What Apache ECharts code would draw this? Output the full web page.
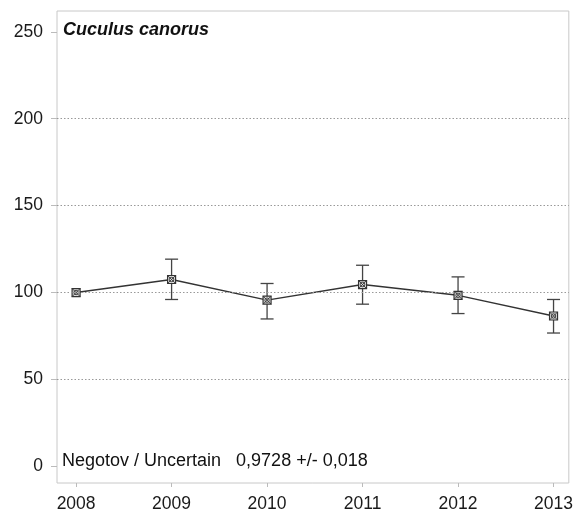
<!DOCTYPE html>
<html><head><meta charset="utf-8">
<script src="https://cdn.jsdelivr.net/npm/echarts@6/dist/echarts.min.js"></script>
<style>html,body{margin:0;padding:0;background:#fff}#c{width:576px;height:513px}</style>
</head><body><div id="c"></div>
<script>
const years = [2008, 2009, 2010, 2011, 2012, 2013];
const indexValues = [100, 107.5, 95.6, 104.6, 98.4, 86.5];
const upperValues = [null, 119.2, 105.2, 115.7, 109.0, 96.0];
const lowerValues = [null, 96.0, 84.8, 93.3, 87.9, 76.7];
const yTicks = [0, 50, 100, 150, 200, 250];
const gridValues = [50, 100, 150, 200];
const speciesTitle = 'Cuculus canorus';
const trendText = 'Negotov / Uncertain   0,9728 +/- 0,018';

const FONT = 'Liberation Sans, Arial, sans-serif';
const chart = echarts.init(document.getElementById('c'));

const errData = years.map((y, i) => [y, indexValues[i], lowerValues[i], upperValues[i]]);

chart.setOption({
  animation: false,
  backgroundColor: '#fff',
  grid: { left: 57, right: 5, top: 11, bottom: 30, show: true, borderColor: '#c8c8c8', borderWidth: 1, backgroundColor: 'transparent' },
  xAxis: {
    type: 'value', min: 2007.8, max: 2013.16,
    axisLine: { show: false, onZero: false },
    splitLine: { show: false },
    axisTick: { show: true, length: 4, customValues: years, lineStyle: { color: '#bbb' } },
    axisLabel: { customValues: years, margin: 12, color: '#1a1a1a', fontFamily: FONT, fontSize: 17.5, formatter: v => String(v) }
  },
  yAxis: {
    type: 'value', min: -9.6, max: 262,
    axisLine: { show: false, onZero: false },
    splitLine: { show: false },
    axisTick: { show: true, length: 6, customValues: yTicks, lineStyle: { color: '#bbb' } },
    axisLabel: { customValues: yTicks, margin: 14, color: '#1a1a1a', fontFamily: FONT, fontSize: 17.5 }
  },
  series: [
    {
      type: 'line',
      data: years.map((y, i) => [y, indexValues[i]]),
      symbol: 'none',
      lineStyle: { color: '#333', width: 1.4 },
      z: 3,
      markLine: {
        silent: true, symbol: 'none', label: { show: false },
        lineStyle: { color: '#999', type: [1.5, 2], width: 1 },
        data: gridValues.map(v => ({ yAxis: v }))
      }
    },
    {
      type: 'custom',
      data: errData,
      z: 4,
      renderItem: function (params, api) {
        const x = api.value(0), v = api.value(1), lo = api.value(2), hi = api.value(3);
        const p = api.coord([x, v]);
        const children = [];
        const st = { stroke: '#444', lineWidth: 1.3 };
        if (!isNaN(lo) && !isNaN(hi) && lo !== null && hi !== null) {
          const pl = api.coord([x, lo]), ph = api.coord([x, hi]);
          const hw = 6.5;
          children.push({ type: 'line', shape: { x1: p[0], y1: pl[1], x2: p[0], y2: ph[1] }, style: st });
          children.push({ type: 'line', shape: { x1: p[0] - hw, y1: pl[1], x2: p[0] + hw, y2: pl[1] }, style: st });
          children.push({ type: 'line', shape: { x1: p[0] - hw, y1: ph[1], x2: p[0] + hw, y2: ph[1] }, style: st });
        }
        const s = 4;
        children.push({ type: 'rect', shape: { x: p[0] - s, y: p[1] - s, width: 2 * s, height: 2 * s }, style: { fill: '#ddd', stroke: '#333', lineWidth: 1.2 } });
        children.push({ type: 'line', shape: { x1: p[0] - s, y1: p[1] - s, x2: p[0] + s, y2: p[1] + s }, style: { stroke: '#333', lineWidth: 0.9 } });
        children.push({ type: 'line', shape: { x1: p[0] + s, y1: p[1] - s, x2: p[0] - s, y2: p[1] + s }, style: { stroke: '#333', lineWidth: 0.9 } });
        children.push({ type: 'circle', shape: { cx: p[0], cy: p[1], r: 2.2 }, style: { fill: 'none', stroke: '#333', lineWidth: 0.9 } });
        return { type: 'group', children: children };
      }
    }
  ],
  graphic: [
    { type: 'text', left: 63, top: 21, style: { text: speciesTitle, fontFamily: FONT, fontSize: 18, fontWeight: 'bold', fontStyle: 'italic', fill: '#111' } },
    { type: 'text', left: 62, top: 452, style: { text: trendText, fontFamily: FONT, fontSize: 18, fill: '#111' } }
  ]
});
</script></body></html>
